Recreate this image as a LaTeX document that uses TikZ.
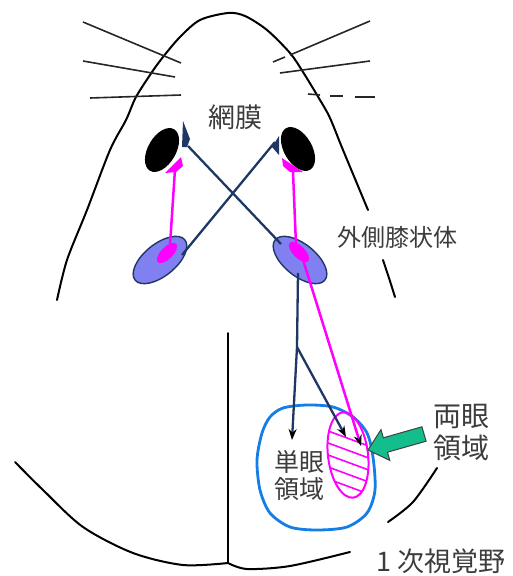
\documentclass[tikz,border=0pt]{standalone}
\usepackage{fontspec}
\newfontfamily\jp{Noto Sans CJK JP}
\usetikzlibrary{arrows.meta}
\definecolor{navy}{RGB}{30,55,100}
\definecolor{pinkline}{RGB}{255,0,255}
\definecolor{lgnfill}{RGB}{128,128,240}
\definecolor{cortexblue}{RGB}{20,125,230}
\definecolor{arrowgreen}{RGB}{20,190,140}
\definecolor{labelgray}{RGB}{60,60,60}
\begin{document}
\begin{tikzpicture}[x=1pt,y=-1pt,
  outline/.style={black,line width=2pt,line cap=round},
  whisker/.style={black!85,line width=1.6pt},
  axon/.style={navy,line width=2.3pt},
  crossaxon/.style={pinkline,line width=2.5pt},
  tipped/.style={-{Stealth[length=11pt,width=8pt,black]}},
  lbl/.style={text=labelgray,inner sep=0pt,align=center}]
\useasboundingbox (0,0) rectangle (512,576);

% head outline
\draw[outline] plot[smooth] coordinates {(57,300) (67,260) (87,210) (110,150) (126,120) (136,97) (152,72) (163,57) (180,37) (200,20) (228,13) (245,16) (267,30) (290,53) (303,72) (320,100) (330,118) (343,150) (368,210)};
\draw[outline] plot[smooth] coordinates {(383,260) (389,278) (395,297)};
% back of the brain and the midline
\draw[outline] plot[smooth] coordinates {(15,462) (43,490) (83,527) (133,553) (183,565) (228,563)};
\draw[outline] plot[smooth] coordinates {(228,563) (247,569) (290,566) (350,552)};
\draw[outline] plot[smooth] coordinates {(388,522) (413,502) (437,468)};
\draw[outline] (228,333) -- (228,563);

% whiskers
\draw[whisker] (83,22) -- (181,63);
\draw[whisker] (83,61) -- (175,77);
\draw[whisker] (90,98) -- (181,95);
\draw[whisker] (370,21) -- (290,55);
\draw[whisker] (285,57) -- (273,62);
\draw[whisker] (370,61) -- (280,73);
\draw[whisker] (308,94) -- (320,95);
\draw[whisker] (330,96) -- (343,96);
\draw[whisker] (355,97) -- (375,97);

% eyes
\fill[black,rotate around={60:(162,150)}] (162,150) ellipse [x radius=24, y radius=14];
\fill[black,rotate around={-60:(298,149)}] (298,149) ellipse [x radius=24, y radius=14];
% retinas
\fill[navy] (183,121) -- (190,139) -- (187,147) -- (182,147) -- cycle;
\fill[navy] (279,136) -- (272,147) -- (279,155) -- cycle;
\fill[pinkline] (165,173) -- (181,157) -- (183,166) -- (176,172) -- cycle;
\fill[pinkline] (282,158) -- (303,172) -- (290,172) -- (283,166) -- cycle;

% lateral geniculate nuclei
\draw[navy,line width=1.4pt,fill=lgnfill,rotate around={39:(160,260)}] (160,260) ellipse [x radius=32, y radius=16];
\draw[navy,line width=1.4pt,fill=lgnfill,rotate around={-39:(300,260)}] (300,260) ellipse [x radius=32, y radius=16];
\fill[pinkline,rotate around={45:(167,253)}] (167,253) ellipse [x radius=13, y radius=6];
\fill[pinkline,rotate around={-45:(299,252)}] (299,252) ellipse [x radius=13, y radius=6];

% connector end points
\coordinate (retL) at (188,146);
\coordinate (retR) at (275,142);
\coordinate (magL) at (175,169);
\coordinate (magR) at (293,172);
\coordinate (lgnL) at (182,255);
\coordinate (lgnR) at (281,244);
\coordinate (lgnLm) at (170,245);
\coordinate (lgnRm) at (296,245);
\coordinate (lgnRout) at (298,273);
\coordinate (magRout) at (300,250);
\coordinate (branch) at (297,347);
\coordinate (mono) at (292,440);
\coordinate (binoA) at (346,437);
\coordinate (binoB) at (361,446);

% primary visual cortex
\draw[cortexblue,line width=2.8pt] plot[smooth cycle] coordinates {(283,408) (307,405) (333,407) (353,417) (367,433) (373,457) (375,490) (367,513) (347,527) (317,530) (290,527) (270,513) (260,490) (257,460) (262,433) (270,417)};

% binocular zone, hatched
\begin{scope}
  \clip[rotate around={7:(348,455)}] (348,455) ellipse [x radius=20, y radius=43];
  \foreach \k in {0,...,6}
    \draw[pinkline,line width=1.6pt] (320,{428+12*\k}) -- (385,{452+12*\k});
\end{scope}
\draw[pinkline,line width=2pt,rotate around={7:(348,455)}] (348,455) ellipse [x radius=20, y radius=43];

% optic pathways
\draw[axon] (retL) -- (lgnR);
\draw[axon] (retR) -- (lgnL);
\draw[crossaxon] (magL) -- (lgnLm);
\draw[crossaxon] (magR) -- (lgnRm);
\draw[crossaxon,tipped] (magRout) -- (binoB);
\draw[axon] (lgnRout) -- (branch);
\draw[axon,tipped] (branch) -- (mono);
\draw[axon,tipped] (branch) -- (binoA);

% pointer to the binocular zone
\draw[black!75,line width=1pt,fill=arrowgreen] (368,450) -- (381,429.6) -- (383.3,437.8) -- (421.9,426.8) -- (426.1,441.2) -- (387.5,452.2) -- (389.8,460.4) -- cycle;

% labels
\node[lbl,font=\jp\fontsize{27}{30}\selectfont] (tRetina) at (235,117) {網膜};
\node[lbl,font=\jp\fontsize{24}{27}\selectfont] (tLGN) at (397,237) {外側膝状体};
\node[lbl,font=\jp\fontsize{28}{32}\selectfont] (tBino) at (461,433) {両眼\\領域};
\node[lbl,font=\jp\fontsize{25}{27}\selectfont] (tMono) at (299,476) {単眼\\領域};
\node[lbl,font=\jp\fontsize{27}{30}\selectfont] (tV1) at (441,561) {1 次視覚野};
\end{tikzpicture}
\end{document}
